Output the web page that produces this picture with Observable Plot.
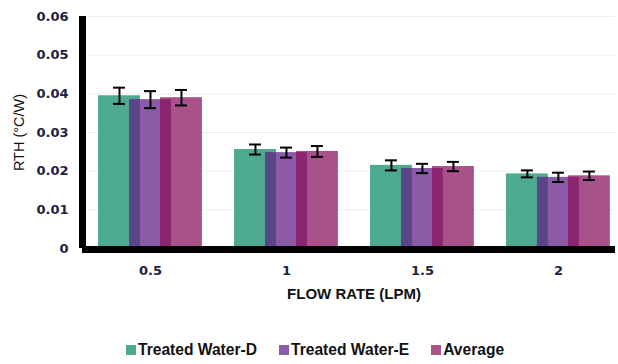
<!DOCTYPE html>
<html><head><meta charset="utf-8">
<script src="https://cdn.jsdelivr.net/npm/d3@7"></script>
<script src="https://cdn.jsdelivr.net/npm/@observablehq/plot@0.6"></script>
<style>
body{margin:0;background:#fff;width:618px;height:364px;overflow:hidden}
#legend{display:flex;align-items:center;margin-left:126px;height:32px;font:bold 15.6px "Liberation Sans",Arial,sans-serif;color:#111}
#legend .it{display:flex;align-items:center;margin-right:22px}
#legend .sw{width:10px;height:10px;margin-right:2px}
</style></head>
<body><div id="chart"></div><div id="legend"></div>
<script>
const flows = ["0.5", "1", "1.5", "2"];
const seriesNames = ["Treated Water-D", "Treated Water-E", "Average"];
const waterD = [0.0395, 0.0256, 0.0215, 0.0193];
const waterE = [0.0385, 0.0248, 0.0207, 0.0184];
const average = [0.0390, 0.0251, 0.0212, 0.0188];
const errD = [0.0021, 0.0013, 0.0013, 0.0009];
const errE = [0.0022, 0.0013, 0.0012, 0.0012];
const errAvg = [0.0020, 0.0014, 0.0012, 0.0011];
const yTicks = [0, 0.01, 0.02, 0.03, 0.04, 0.05, 0.06];
const yTickLabels = ["0", "0.01", "0.02", "0.03", "0.04", "0.05", "0.06"];
const colors = ["#4daa91", "#8c5ba8", "#a9528a"];
const overlapColors = ["#5a4588", "#8b2570"];

const values = [waterD, waterE, average];
const errors = [errD, errE, errAvg];
const offsets = [-0.228, 0, 0.228];
const hw = 0.154, cap = 0.044;

const bars = [];
flows.forEach((f, i) => values.forEach((vals, s) => {
  bars.push({i, s, c: i + offsets[s], v: vals[i], e: errors[s][i]});
}));
const overlaps = [];
flows.forEach((f, i) => [1, 2].forEach(s => {
  overlaps.push({s, x1: i + offsets[s] - hw, x2: i + offsets[s - 1] + hw,
    v: Math.min(values[s][i], values[s - 1][i])});
}));

const plot = Plot.plot({
  width: 618, height: 334,
  marginLeft: 82, marginRight: 3, marginTop: 16, marginBottom: 86,
  style: {fontFamily: "DejaVu Sans", fontSize: "13px", fontWeight: "bold", color: "#1e2140", background: "#fff"},
  x: {domain: [-0.5, 3.42], label: null},
  y: {domain: [0, 0.06], label: null},
  marks: [
    Plot.gridY(yTicks.slice(1), {stroke: "#eeeeee", strokeOpacity: 1}),
    Plot.rect(bars, {x1: d => d.c - hw, x2: d => d.c + hw, y1: 0, y2: "v", fill: d => colors[d.s]}),
    Plot.rect(overlaps, {x1: "x1", x2: "x2", y1: 0, y2: "v", fill: d => overlapColors[d.s - 1]}),
    Plot.ruleX(bars, {x: "c", y1: d => d.v - d.e, y2: d => d.v + d.e, stroke: "#000", strokeWidth: 2}),
    Plot.ruleY(bars, {y: d => d.v + d.e, x1: d => d.c - cap, x2: d => d.c + cap, stroke: "#000", strokeWidth: 2}),
    Plot.ruleY(bars, {y: d => d.v - d.e, x1: d => d.c - cap, x2: d => d.c + cap, stroke: "#000", strokeWidth: 2}),
    Plot.ruleX([-0.5], {y1: 0, y2: 0.06, stroke: "#000", strokeWidth: 7}),
    Plot.ruleY([0], {stroke: "#000", strokeWidth: 7, dy: 1}),
    Plot.axisY(yTicks, {tickSize: 0, tickPadding: 14, tickFormat: d => yTickLabels[yTicks.indexOf(d)], label: null}),
    Plot.axisX(d3.range(flows.length), {tickSize: 0, tickPadding: 17, tickFormat: d => flows[d], label: null}),
    Plot.text(["FLOW RATE (LPM)"], {frameAnchor: "bottom", dy: 50, dx: 5, fontFamily: "Liberation Sans, Arial", fontSize: 15, fontWeight: "bold", fill: "#111"}),
    Plot.text(["RTH (°C/W)"], {frameAnchor: "left", textAnchor: "middle", rotate: -90, dx: -63, fontFamily: "Liberation Sans, Arial", fontSize: 14.5, fontWeight: "normal", fill: "#111"})
  ]
});
document.getElementById("chart").appendChild(plot);

const legend = document.getElementById("legend");
seriesNames.forEach((n, s) => {
  const it = document.createElement("div"); it.className = "it";
  const sw = document.createElement("div"); sw.className = "sw"; sw.style.background = colors[s];
  const t = document.createElement("span"); t.textContent = n;
  it.appendChild(sw); it.appendChild(t); legend.appendChild(it);
});
</script></body></html>
